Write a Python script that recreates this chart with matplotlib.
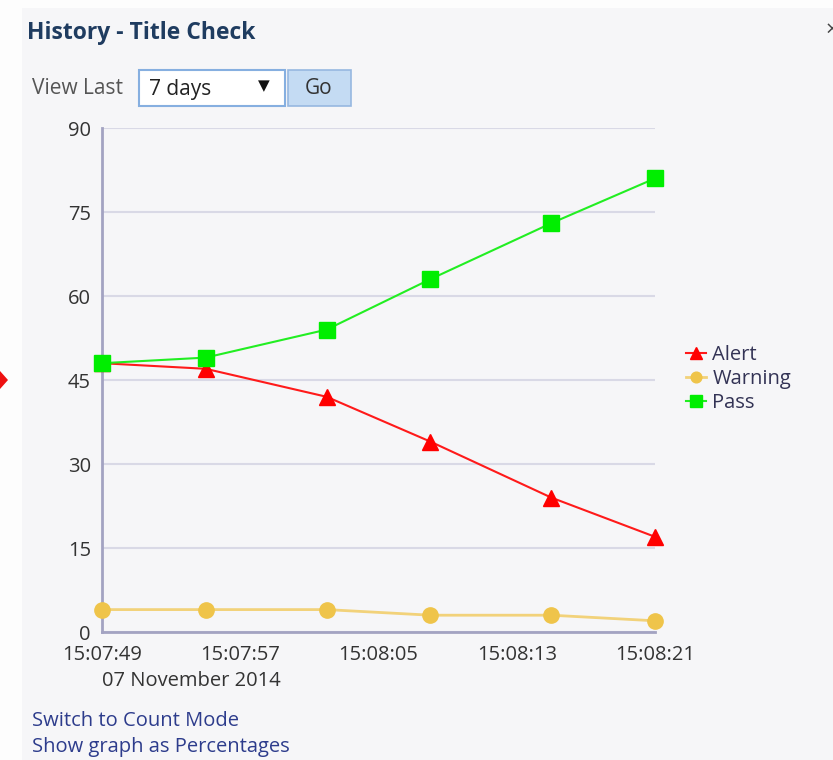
import matplotlib
matplotlib.use("Agg")
import matplotlib.pyplot as plt
import matplotlib.dates as mdates
from matplotlib.patches import Rectangle, Polygon
from datetime import datetime

plt.rcParams['font.family'] = ['Open Sans', 'DejaVu Sans']

# sample times (seconds after 15:07:49)
times = [datetime(2014, 11, 7, 15, 7, 49), datetime(2014, 11, 7, 15, 7, 55),
         datetime(2014, 11, 7, 15, 8, 2), datetime(2014, 11, 7, 15, 8, 8),
         datetime(2014, 11, 7, 15, 8, 15), datetime(2014, 11, 7, 15, 8, 21)]
alert = [48, 47, 42, 34, 24, 17]
warning = [4, 4, 4, 3, 3, 2]
passed = [48, 49, 54, 63, 73, 81]
tick_times = [datetime(2014, 11, 7, 15, 7, 49), datetime(2014, 11, 7, 15, 7, 57),
              datetime(2014, 11, 7, 15, 8, 5), datetime(2014, 11, 7, 15, 8, 13),
              datetime(2014, 11, 7, 15, 8, 21)]
y_ticks = [0, 15, 30, 45, 60, 75, 90]

W, H = 833, 760
fig = plt.figure(figsize=(W / 100, H / 100), dpi=100)
fig.patch.set_facecolor('#fdfdfd')

# panel background
fig.patches.append(Rectangle((22 / W, 0), 1, 1 - 8 / H, transform=fig.transFigure,
                             facecolor='#f6f6f8', edgecolor='none', zorder=-10))
# red diamond cut at the left edge
fig.patches.append(Polygon([(-8 / W, 1 - 380 / H), (0, 1 - 371 / H), (8 / W, 1 - 380 / H),
                            (0, 1 - 389 / H)], closed=True, transform=fig.transFigure,
                           facecolor='#ee1111', edgecolor='none', zorder=-5))

# header
fig.text(27 / W, 1 - 33 / H, 'History - Title Check', fontsize=16.5, fontweight='bold',
         color='#1f3c60', va='center', ha='left')
fig.text(826 / W, 1 - 30 / H, '×', fontsize=16, color='#444444', va='center', ha='left')
fig.text(32 / W, 1 - 89 / H, 'View Last', fontsize=15, color='#555555', va='center', ha='left')
fig.patches.append(Rectangle((139 / W, 1 - 106 / H), 146 / W, 36 / H, transform=fig.transFigure,
                             facecolor='white', edgecolor='#86afe0', linewidth=1.5))
fig.text(149 / W, 1 - 89 / H, '7 days', fontsize=15, color='#222222', va='center', ha='left')
fig.text(264 / W, 1 - 87 / H, '▼', fontsize=11, color='#111111', va='center', ha='center')
fig.patches.append(Rectangle((288 / W, 1 - 106 / H), 63 / W, 36 / H, transform=fig.transFigure,
                             facecolor='#c4dbf3', edgecolor='#97b8e0', linewidth=1.2))
fig.text(319 / W, 1 - 88 / H, 'Go', fontsize=15, color='#333333', va='center', ha='center')

# bottom links
fig.text(32 / W, 1 - 721 / H, 'Switch to Count Mode', fontsize=14.5, color='#2d3c8c', va='center')
fig.text(32 / W, 1 - 747 / H, 'Show graph as Percentages', fontsize=14.5, color='#2d3c8c', va='center')

ax = fig.add_axes([102 / W, 1 - 632 / H, 553 / W, 504 / H])
ax.set_facecolor('none')

ax.plot(times, warning, color='#f2d27a', linewidth=2, marker='o', markersize=11,
        markerfacecolor='#efc44a', markeredgecolor='#efc44a', label='Warning',
        zorder=3, clip_on=False)
ax.plot(times, alert, color='#ff1a1a', linewidth=1.5, marker='^', markersize=12,
        markerfacecolor='#ff0000', markeredgecolor='#ff0000', label='Alert',
        zorder=4, clip_on=False)
ax.plot(times, passed, color='#22ee22', linewidth=1.5, marker='s', markersize=12,
        markerfacecolor='#00ee00', markeredgecolor='#00ee00', label='Pass',
        zorder=5, clip_on=False)

ax.set_ylim(0, 90)
ax.set_yticks(y_ticks)
ax.set_xlim(times[0], times[-1])
ax.set_xticks(tick_times)
ax.xaxis.set_major_formatter(mdates.DateFormatter('%H:%M:%S'))
ax.grid(axis='y', color='#d9d9e6', linewidth=1.5)
ax.set_axisbelow(True)
for s in ['top', 'right']:
    ax.spines[s].set_visible(False)
for s in ['left', 'bottom']:
    ax.spines[s].set_color('#a3a3c2')
    ax.spines[s].set_linewidth(2)
ax.tick_params(length=0, labelsize=14.5, labelcolor='#333333')
ax.tick_params(axis='y', pad=8)
ax.tick_params(axis='x', pad=9)
ax.text(0, -0.078, '07 November 2014', transform=ax.transAxes, fontsize=14.5,
        color='#333333', ha='left', va='top')

handles, labels = ax.get_legend_handles_labels()
order = [labels.index('Alert'), labels.index('Warning'), labels.index('Pass')]
ax.legend([handles[i] for i in order], [labels[i] for i in order], frameon=False,
          loc='center left', bbox_to_anchor=(668 / W, 1 - 379 / H),
          bbox_transform=fig.transFigure, fontsize=14.5, handlelength=1.0,
          handletextpad=0.3, labelspacing=0.2, markerscale=0.7, labelcolor='#333355')

fig.savefig('out.png', dpi=100, facecolor=fig.get_facecolor())
